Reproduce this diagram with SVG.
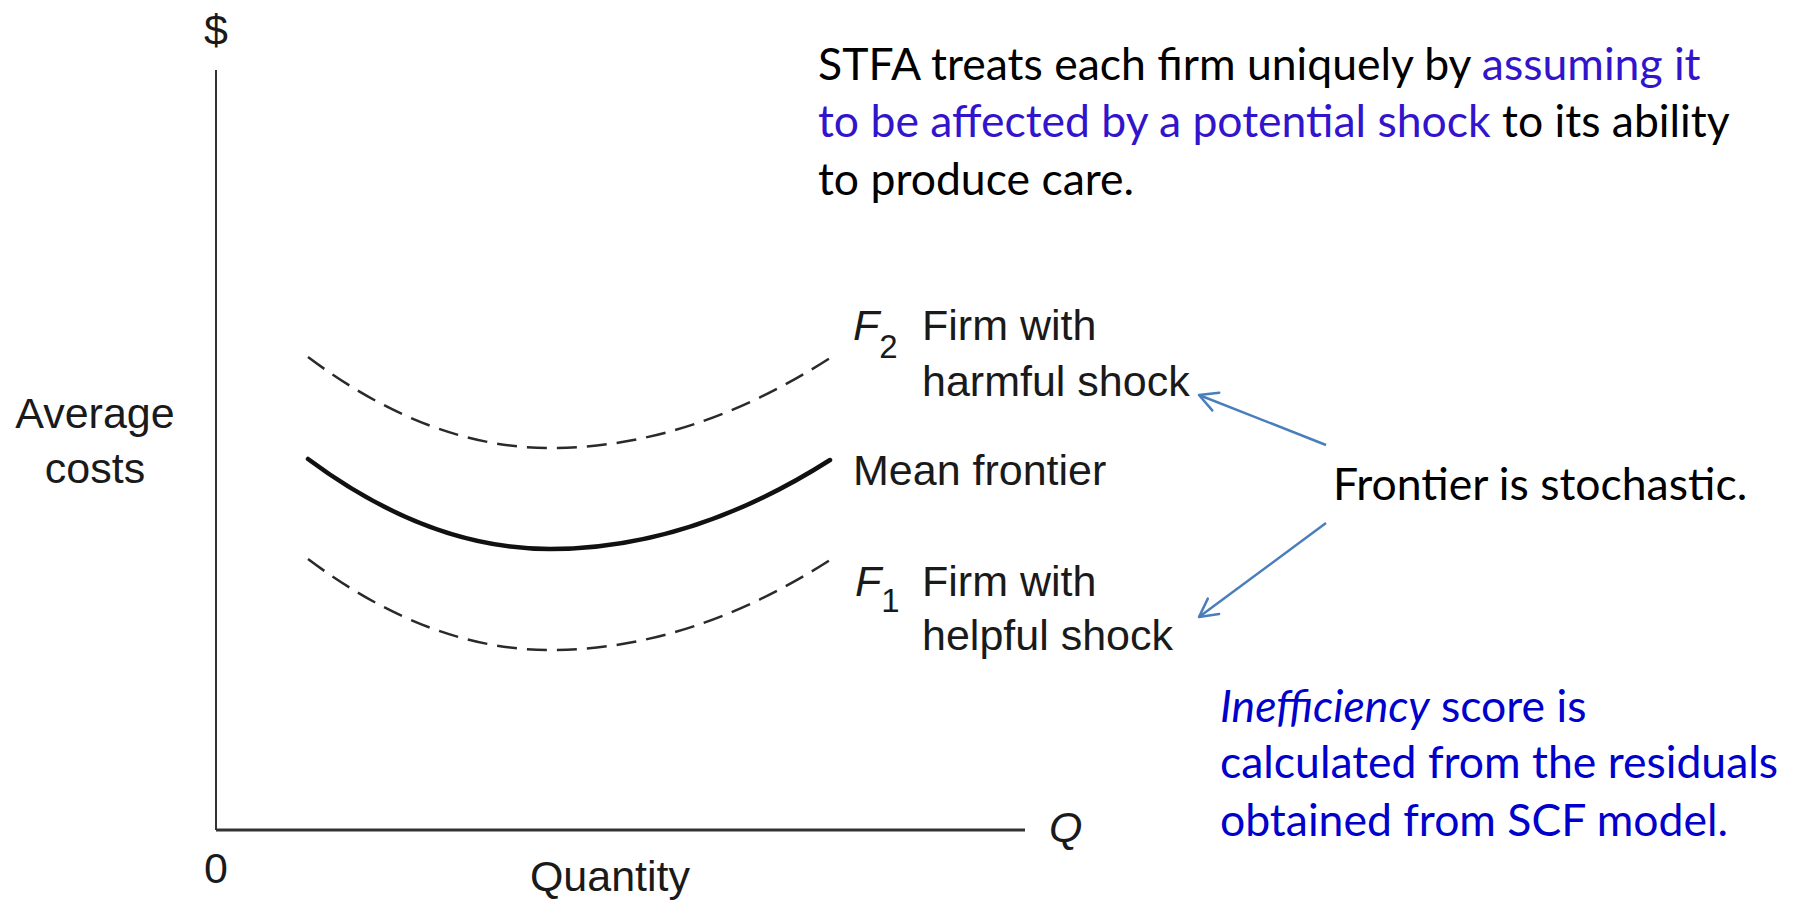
<svg xmlns="http://www.w3.org/2000/svg" width="1798" height="902" viewBox="0 0 1798 902">
<style>
.lbl{font-family:"Liberation Sans",Arial,sans-serif;font-size:43px;fill:#1a1a1a}
.it{font-style:italic}
.sub{font-size:33px;font-style:normal}
.note{font-family:Lato,"Liberation Sans",sans-serif;font-size:44.5px;fill:#000}
.b1{fill:#3214CC}
.b2{fill:#0000CC}
.axis{stroke:#333;fill:none}
.solid{stroke:#111;stroke-width:4.5;fill:none;stroke-linecap:round}
.dash{stroke:#2a2a2a;stroke-width:2.5;fill:none;stroke-dasharray:20 10}
.conn{stroke:#4A7EBB;stroke-width:2.5;fill:none}
</style>
<defs>
<marker id="open" markerUnits="userSpaceOnUse" markerWidth="40" markerHeight="40" refX="0" refY="0" orient="auto" overflow="visible">
<path d="M-18,-9.5 L0,0 L-18,9.5" fill="none" stroke="#4A7EBB" stroke-width="2.5" stroke-linecap="round" stroke-linejoin="round"/>
</marker>
</defs>
<rect width="1798" height="902" fill="#fff"/>
<g id="axes">
<path class="axis" stroke-width="2" d="M216,70 V830"/>
<path class="axis" stroke-width="3" d="M216,830 H1025"/>
<text class="lbl" x="216" y="45" text-anchor="middle" font-size="40">$</text>
<text class="lbl" x="95" y="428" text-anchor="middle">Average</text>
<text class="lbl" x="95" y="483" text-anchor="middle">costs</text>
<text class="lbl" x="216" y="883" text-anchor="middle">0</text>
<text class="lbl" x="610" y="891" text-anchor="middle">Quantity</text>
<text class="lbl it" x="1049" y="842">Q</text>
</g>
<g id="f2">
<path class="dash" d="M308,357 Q429,448 550,448 Q690,448 830,358"/>
<text class="lbl" x="853" y="340"><tspan class="it">F</tspan><tspan class="sub" dy="18">2</tspan></text>
<text class="lbl" x="922" y="340">Firm with</text>
<text class="lbl" x="922" y="396">harmful shock</text>
</g>
<g id="mean">
<path class="solid" d="M308,459 Q429,549 550,549 Q690,549 830,460"/>
<text class="lbl" x="853" y="485">Mean frontier</text>
</g>
<g id="f1">
<path class="dash" d="M308,559 Q429,650 550,650 Q690,650 830,560"/>
<text class="lbl" x="855" y="596"><tspan class="it">F</tspan><tspan class="sub" dy="16">1</tspan></text>
<text class="lbl" x="922" y="596">Firm with</text>
<text class="lbl" x="922" y="650">helpful shock</text>
</g>
<g id="stfa-note">
<text class="note" x="818" y="80">STFA treats each firm uniquely by <tspan class="b1">assuming it</tspan></text>
<text class="note" x="818" y="137"><tspan class="b1">to be affected by a potential shock</tspan> to its ability</text>
<text class="note" x="818" y="195">to produce care.</text>
</g>
<g id="stochastic-note">
<text class="note" x="1333" y="500">Frontier is stochastic.</text>
</g>
<g id="inefficiency-note">
<text class="note b2" x="1220" y="722"><tspan font-style="italic">Inefficiency</tspan> score is</text>
<text class="note b2" x="1220" y="778">calculated from the residuals</text>
<text class="note b2" x="1220" y="836">obtained from SCF model.</text>
</g>
<g id="connectors">
<path class="conn" d="M1326,445 L1199,395" marker-end="url(#open)"/>
<path class="conn" d="M1326,523 L1199,617" marker-end="url(#open)"/>
</g>
</svg>
